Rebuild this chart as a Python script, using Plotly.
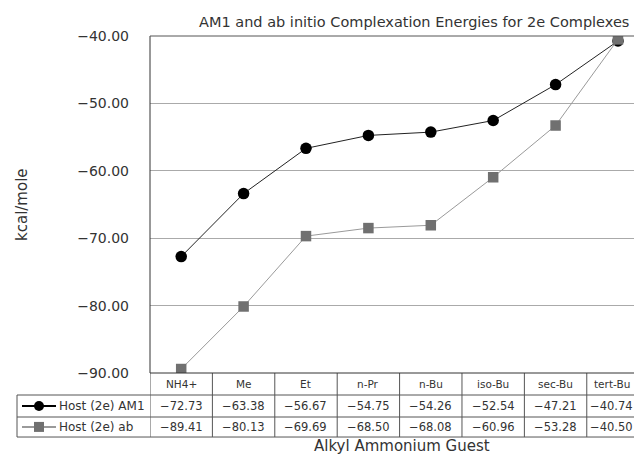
import plotly.graph_objects as go

categories = ["NH4+", "Me", "Et", "n-Pr", "n-Bu", "iso-Bu", "sec-Bu", "tert-Bu"]
am1 = [-72.73, -63.38, -56.67, -54.75, -54.26, -52.54, -47.21, -40.74]
ab = [-89.41, -80.13, -69.69, -68.50, -68.08, -60.96, -53.28, -40.50]
series_names = ["Host (2e) AM1", "Host (2e) ab"]
y_ticks = [-40, -50, -60, -70, -80, -90]

FONT = "DejaVu Sans"
TXT = "#333333"
xs = list(range(len(categories)))

fig = go.Figure()
fig.add_trace(go.Scatter(x=xs, y=am1, mode="lines+markers", name=series_names[0],
                         line=dict(color="#222222", width=1),
                         marker=dict(symbol="circle", size=11.5, color="#000000")))
fig.add_trace(go.Scatter(x=xs, y=ab, mode="lines+markers", name=series_names[1],
                         line=dict(color="#9a9a9a", width=1),
                         marker=dict(symbol="square", size=10.5, color="#707070")))

# table geometry (paper y)
y_hdr, y_r1, y_r2 = -0.033, -0.098, -0.160
l1, l2, l3 = -0.0653, -0.1306, -0.190
xmax = 7.385

shapes = []
ann = []
for i in range(len(categories) + 1):
    xv = i - 0.5
    if xv > xmax:
        continue
    shapes.append(dict(type="line", xref="x", yref="paper", x0=xv, x1=xv, y0=0, y1=l3,
                       line=dict(color="#555555", width=1)))
for yy in [l1, l2, l3]:
    shapes.append(dict(type="line", xref="paper", yref="paper", x0=-(150-17)/492, x1=1, y0=yy, y1=yy,
                       line=dict(color="#555555", width=1)))
shapes.append(dict(type="line", xref="paper", yref="paper", x0=-(150-17)/492, x1=-(150-17)/492,
                   y0=l1, y1=l3, line=dict(color="#555555", width=1)))
shapes.append(dict(type="line", xref="paper", yref="paper", x0=0, x1=0, y0=0, y1=1,
                   line=dict(color="#333333", width=1)))
shapes.append(dict(type="line", xref="paper", yref="paper", x0=0, x1=1, y0=1, y1=1,
                   line=dict(color="#555555", width=1)))
shapes.append(dict(type="line", xref="paper", yref="paper", x0=0, x1=1, y0=0, y1=0,
                   line=dict(color="#333333", width=1)))

def px(xp):
    return (xp - 150) / 492

for yy, col, lcol, sym in [(y_r1, "#000000", "#000000", "circle"), (y_r2, "#707070", "#9a9a9a", "square")]:
    shapes.append(dict(type="line", xref="paper", yref="paper", x0=px(22), x1=px(56), y0=yy, y1=yy,
                       line=dict(color=lcol, width=2)))
    cx = px(39)
    dx = 5 / 492
    dy = 5 / 337
    if sym == "circle":
        shapes.append(dict(type="circle", xref="paper", yref="paper", x0=cx - dx, x1=cx + dx,
                           y0=yy - dy, y1=yy + dy, fillcolor=col, line=dict(color=col, width=0)))
    else:
        shapes.append(dict(type="rect", xref="paper", yref="paper", x0=cx - dx, x1=cx + dx,
                           y0=yy - dy, y1=yy + dy, fillcolor=col, line=dict(color=col, width=0)))

for yy, name in [(y_r1, series_names[0]), (y_r2, series_names[1])]:
    ann.append(dict(x=px(57), y=yy, xref="paper", yref="paper", text=name, showarrow=False,
                    xanchor="left", yanchor="middle", font=dict(size=12, color=TXT, family=FONT)))

for i, c in enumerate(categories):
    shift = -6 if i == len(categories) - 1 else 0
    ann.append(dict(x=i, y=y_hdr, xref="x", yref="paper", text=c, showarrow=False, xshift=shift,
                    yanchor="middle", font=dict(size=10.5, color=TXT, family=FONT)))
    ann.append(dict(x=i, y=y_r1, xref="x", yref="paper", text=f"{am1[i]:.2f}".replace("-", "\u2212"),
                    showarrow=False, xshift=shift, yanchor="middle", font=dict(size=11.5, color=TXT, family=FONT)))
    ann.append(dict(x=i, y=y_r2, xref="x", yref="paper", text=f"{ab[i]:.2f}".replace("-", "\u2212"),
                    showarrow=False, xshift=shift, yanchor="middle", font=dict(size=11.5, color=TXT, family=FONT)))

ann.append(dict(x=px(402), y=(373 - 446) / 337, xref="paper", yref="paper", text="Alkyl Ammonium Guest",
                showarrow=False, yanchor="middle", font=dict(size=15, color=TXT, family=FONT)))
ann.append(dict(x=px(414), y=(373 - 22) / 337, xref="paper", yref="paper",
                text="AM1 and ab initio Complexation Energies for 2e Complexes",
                showarrow=False, yanchor="middle", font=dict(size=14.5, color=TXT, family=FONT)))
ann.append(dict(x=px(22), y=(373 - 205) / 337, xref="paper", yref="paper", text="kcal/mole",
                textangle=-90, showarrow=False, xanchor="center", yanchor="middle",
                font=dict(size=15, color=TXT, family=FONT)))

fig.update_layout(
    width=634, height=448,
    margin=dict(l=142, r=0, t=28, b=83),
    paper_bgcolor="white", plot_bgcolor="white",
    showlegend=False,
    font=dict(family=FONT, color=TXT),
    xaxis=dict(range=[-0.5, xmax], showticklabels=False, showgrid=False, zeroline=False,
               showline=False, ticks=""),
    yaxis=dict(range=[-90, -40], tickvals=y_ticks, ticktext=[f"{v:.2f}".replace("-", "\u2212") for v in y_ticks],
               showgrid=True, gridcolor="#aaaaaa", gridwidth=1, zeroline=False, showline=False,
               ticks="", ticklabelstandoff=20, tickfont=dict(size=14, color=TXT, family=FONT)),
    shapes=shapes, annotations=ann,
)
fig.write_html("out.html")
